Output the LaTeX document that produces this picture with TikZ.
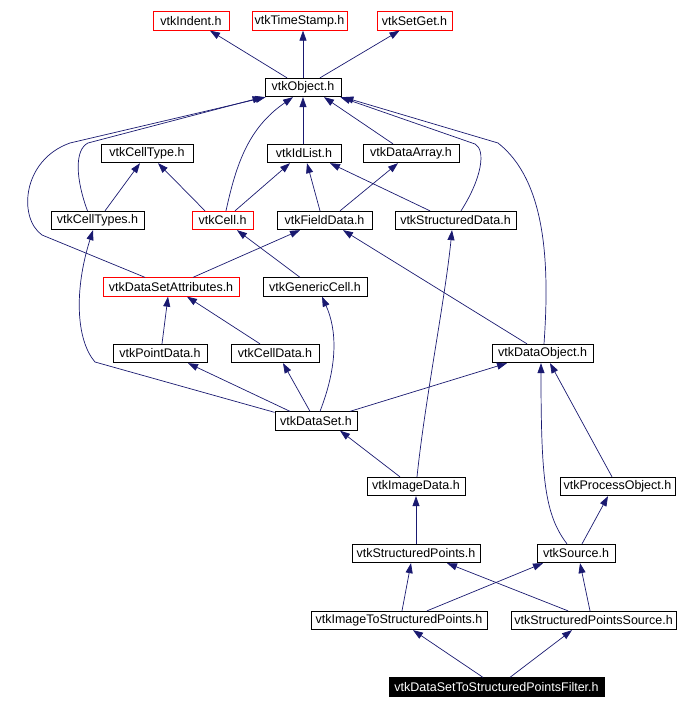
\documentclass[tikz,border=0pt]{standalone}
\usepackage{fontspec}
\setmainfont{Liberation Sans}
\usetikzlibrary{arrows.meta}
\definecolor{edgeblue}{RGB}{25,25,112}
\begin{document}
\begin{tikzpicture}[x=1pt,y=-1pt,
    hdr/.style={draw=black,line width=0.8pt,rectangle,minimum height=18.5pt,inner sep=0pt,font=\fontsize{12.5}{14}\selectfont},
    redhdr/.style={hdr,draw=red},
    curhdr/.style={hdr,fill=black,text=white},
    dep/.style={draw=edgeblue,line width=0.7pt,-{Stealth[length=10pt,width=7pt,inset=0pt]}}]
        \useasboundingbox (0,0) rectangle (678,709);
        % header boxes
        \node[redhdr,minimum width=76pt] (indent) at (191,21) {vtkIndent.h};
        \node[redhdr,minimum width=95pt] (timestamp) at (299.5,21) {vtkTimeStamp.h};
        \node[redhdr,minimum width=75pt] (setget) at (414.5,21) {vtkSetGet.h};
        \node[hdr,minimum width=76pt] (object) at (303,87.5) {vtkObject.h};
        \node[hdr,minimum width=92pt] (celltype) at (147,153.5) {vtkCellType.h};
        \node[hdr,minimum width=74pt] (idlist) at (304,153.5) {vtkIdList.h};
        \node[hdr,minimum width=96pt] (dataarray) at (411,153.5) {vtkDataArray.h};
        \node[hdr,minimum width=93pt] (celltypes) at (97.5,220.5) {vtkCellTypes.h};
        \node[redhdr,minimum width=61pt] (cell) at (222.5,220.5) {vtkCell.h};
        \node[hdr,minimum width=95pt] (fielddata) at (324.5,220.5) {vtkFieldData.h};
        \node[hdr,minimum width=121pt] (structdata) at (455.5,220.5) {vtkStructuredData.h};
        \node[redhdr,minimum width=136pt] (dsattr) at (171,287) {vtkDataSetAttributes.h};
        \node[hdr,minimum width=104pt] (genericcell) at (315,287) {vtkGenericCell.h};
        \node[hdr,minimum width=94pt] (pointdata) at (160,353.5) {vtkPointData.h};
        \node[hdr,minimum width=88pt] (celldata) at (275,353.5) {vtkCellData.h};
        \node[hdr,minimum width=101pt] (dataobject) at (542.5,353.5) {vtkDataObject.h};
        \node[hdr,minimum width=82pt] (dataset) at (316,421) {vtkDataSet.h};
        \node[hdr,minimum width=98pt] (imagedata) at (416,486.5) {vtkImageData.h};
        \node[hdr,minimum width=115pt] (procobject) at (617.5,486.5) {vtkProcessObject.h};
        \node[hdr,minimum width=128pt] (structpoints) at (416,553.5) {vtkStructuredPoints.h};
        \node[hdr,minimum width=78pt] (source) at (576,553.5) {vtkSource.h};
        \node[hdr,minimum width=176pt] (imgtosp) at (399,620.5) {vtkImageToStructuredPoints.h};
        \node[hdr,minimum width=165pt] (spsource) at (593.5,620.5) {vtkStructuredPointsSource.h};
        \node[curhdr,minimum width=215pt] (filter) at (496.5,687) {vtkDataSetToStructuredPointsFilter.h};

        % includes
        \draw[dep] ([xshift=-16pt]object.north) -- ([xshift=19pt]indent.south);
        \draw[dep] (object.north) -- ([xshift=3.5pt]timestamp.south);
        \draw[dep] ([xshift=17pt]object.north) -- ([xshift=-15pt]setget.south);
        \draw[dep] ([xshift=-10pt]celltypes.north) .. controls (76,180) and (74,150) .. (88,143) -- ([xshift=-2pt]object.south west);
        \draw[dep] ([xshift=-26pt]dsattr.north) -- (42,235) .. controls (18,218) and (22,160) .. (70,143) -- ([xshift=1pt]object.south west);
        \draw[dep] ([xshift=7.5pt]celltypes.north) -- ([xshift=-7pt]celltype.south);
        \draw[dep] ([xshift=-17.5pt]cell.north) -- ([xshift=11pt]celltype.south);
        \draw[dep] ([xshift=3.5pt]cell.north) .. controls (236,165) and (248,128) .. ([xshift=-10pt]object.south);
        \draw[dep] ([xshift=12.5pt]cell.north) -- ([xshift=-14pt]idlist.south);
        \draw[dep] ([xshift=-1pt]idlist.north) -- (object.south);
        \draw[dep] ([xshift=-18pt]dataarray.north) -- ([xshift=21pt]object.south);
        \draw[dep] ([xshift=-4.5pt]fielddata.north) -- ([xshift=3pt]idlist.south);
        \draw[dep] ([xshift=15.5pt]fielddata.north) -- ([xshift=-13pt]dataarray.south);
        \draw[dep] ([xshift=-25.5pt]structdata.north) -- ([xshift=26pt]idlist.south);
        \draw[dep] ([xshift=5.5pt]structdata.north) .. controls (482,178) and (486,150) .. (475,144) -- ([xshift=-1pt]object.south east);
        \draw[dep] ([xshift=1.5pt]dataobject.north) .. controls (550,260) and (545,180) .. (498,143) -- ([xshift=2pt]object.south east);
        \draw[dep] ([xshift=-15pt]genericcell.north) -- ([xshift=14.5pt]cell.south);
        \draw[dep] ([xshift=22pt]dsattr.north) -- ([xshift=-24.5pt]fielddata.south);
        \draw[dep] ([xshift=-15.5pt]dataobject.north) -- ([xshift=18.5pt]fielddata.south);
        \draw[dep] ([xshift=2pt]pointdata.north) -- ([xshift=-3pt]dsattr.south);
        \draw[dep] ([xshift=-15pt]celldata.north) -- ([xshift=16pt]dsattr.south);
        \draw[dep] ([yshift=-1pt]dataset.north west) -- (95,362) .. controls (76,340) and (74,290) .. ([xshift=-4.5pt]celltypes.south);
        \draw[dep] ([xshift=-26pt]dataset.north) -- ([xshift=28pt]pointdata.south);
        \draw[dep] ([xshift=-6pt]dataset.north) -- ([xshift=8pt]celldata.south);
        \draw[dep] ([xshift=4pt]dataset.north) .. controls (338,365) and (337,330) .. ([xshift=7pt]genericcell.south);
        \draw[dep] ([xshift=34pt]dataset.north) -- ([xshift=-35.5pt]dataobject.south);
        \draw[dep] ([xshift=-16pt]imagedata.north) -- ([xshift=24pt]dataset.south);
        \draw[dep] ([xshift=1pt]imagedata.north) .. controls (425,400) and (445,300) .. ([xshift=-3.5pt]structdata.south);
        \draw[dep] ([xshift=-9pt]source.north) .. controls (545,515) and (541,480) .. ([xshift=-1.5pt]dataobject.south);
        \draw[dep] ([xshift=-5.5pt]procobject.north) -- ([xshift=7.5pt]dataobject.south);
        \draw[dep] ([xshift=6pt]source.north) -- ([xshift=-9.5pt]procobject.south);
        \draw[dep] (structpoints.north) -- (imagedata.south);
        \draw[dep] ([xshift=3pt]imgtosp.north) -- ([xshift=-5pt]structpoints.south);
        \draw[dep] ([xshift=28pt]imgtosp.north) -- ([xshift=-33pt]source.south);
        \draw[dep] ([xshift=-25.5pt]spsource.north) -- ([xshift=31pt]structpoints.south);
        \draw[dep] ([xshift=-3.5pt]spsource.north) -- ([xshift=4pt]source.south);
        \draw[dep] ([xshift=-13.5pt]filter.north) -- ([xshift=14pt]imgtosp.south);
        \draw[dep] ([xshift=13.5pt]filter.north) -- ([xshift=-21.5pt]spsource.south);
    \end{tikzpicture}
\end{document}
